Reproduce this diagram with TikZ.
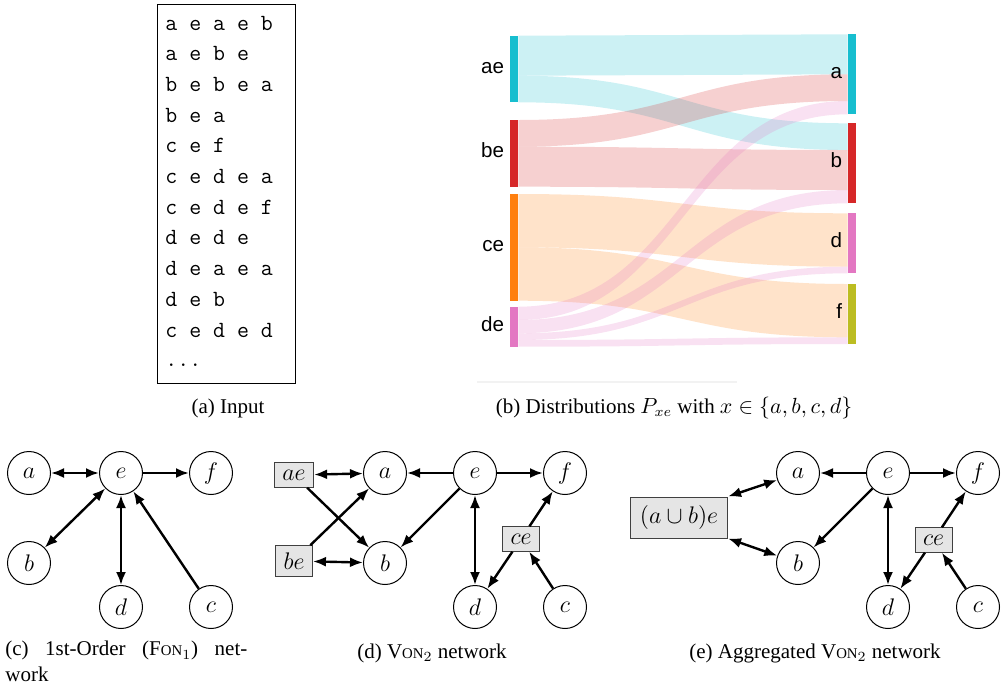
\documentclass[tikz,border=0pt]{standalone}
\usepackage{fontspec}
\setmainfont{Liberation Serif}
\newfontfamily\sankeyfont{Liberation Sans}
\usetikzlibrary{arrows.meta}

\definecolor{flowcyan}{RGB}{23,190,207}
\definecolor{flowred}{RGB}{214,39,40}
\definecolor{floworange}{RGB}{255,127,14}
\definecolor{flowpink}{RGB}{227,119,194}
\definecolor{flowolive}{RGB}{188,189,34}

\newcommand{\smcp}[1]{{\fontsize{7.4}{9}\selectfont #1}}

\begin{document}
\begin{tikzpicture}[x=0.5pt, y=-0.5pt,
    vert/.style={circle, draw, line width=0.5pt, minimum size=21.5pt, inner sep=0pt, font=\fontsize{13}{15}\selectfont},
    memo/.style={rectangle, draw=black!75, line width=0.5pt, fill=black!10, inner xsep=4pt, inner ysep=3.5pt, font=\fontsize{13}{15}\selectfont},
    link/.style={line width=1.2pt, -{Latex[length=6.5pt,width=5pt]}},
    blink/.style={line width=1.2pt, {Latex[length=6.5pt,width=5pt]}-{Latex[length=6.5pt,width=5pt]}},
    capt/.style={anchor=base, inner sep=0pt, font=\fontsize{10.5}{12.6}\selectfont},
    seq/.style={anchor=base west, inner sep=0pt, font=\fontsize{11.6}{14}\ttfamily},
    barlabel/.style={anchor=mid east, inner sep=0pt, font=\fontsize{10.3}{12}\sankeyfont}]
    \useasboundingbox (0,0) rectangle (1006,691);

    % (a) input paths
    \node (inbox) [draw, line width=0.5pt, minimum width=69pt, minimum height=189.5pt, inner sep=0pt] at (226,193.5) {};
    \foreach \s [count=\i] in {a e a e b, a e b e, b e b e a, b e a, c e f, c e d e a, c e d e f, d e d e, d e a e a, d e b, c e d e d}
        \node (seq\i) [seq] at (165, 30.7*\i-0.7) {\s};
    \node (seqmore) [seq] at (165,366) {...};
    \node (capa) [capt] at (228,413) {(a) Input};

    % (b) sankey of P_xe
    \foreach \col/\la/\lb/\ra/\rb in {
        flowcyan/35.7/75.7/34.3/74.3,
        flowcyan/75.7/102.3/123.3/150,
        flowred/120/146.7/74.3/101,
        flowred/146.7/186.7/150/190,
        floworange/194/247.3/213.3/266.7,
        floworange/247.3/300.7/284/337.3,
        flowpink/306.7/320/101/114.3,
        flowpink/320/333.3/190/203.3,
        flowpink/333.3/340/266.7/273.3,
        flowpink/340/346.7/337.3/344}
        \fill[\col, fill opacity=0.22] (518.3,\la) .. controls (683,\la) and (683,\ra) .. (847.7,\ra)
            -- (847.7,\rb) .. controls (683,\rb) and (683,\lb) .. (518.3,\lb) -- cycle;

    \fill[flowcyan] (510,35.7) rectangle (518.3,102.3);
    \fill[flowred] (510,120) rectangle (518.3,186.7);
    \fill[floworange] (510,194) rectangle (518.3,300.7);
    \fill[flowpink] (510,306.7) rectangle (518.3,346.7);
    \fill[flowcyan] (847.7,34.3) rectangle (855.7,114.3);
    \fill[flowred] (847.7,123.3) rectangle (855.7,203.3);
    \fill[flowpink] (847.7,213.3) rectangle (855.7,273.3);
    \fill[flowolive] (847.7,284) rectangle (855.7,344);

    \node (lae) [barlabel] at (504.5,69) {ae};
    \node (lbe) [barlabel] at (504.5,153.3) {be};
    \node (lce) [barlabel] at (504.5,247.3) {ce};
    \node (lde) [barlabel] at (504.5,326.7) {de};
    \node (ra) [barlabel] at (842.5,74.3) {a};
    \node (rb) [barlabel] at (842.5,163.3) {b};
    \node (rd) [barlabel] at (842.5,243.3) {d};
    \node (rf) [barlabel] at (842.5,314) {f};

    \draw[black!5, line width=1pt] (477,381.5) -- (737,381.5);
    \node (capb) [capt] at (674,413) {(b) Distributions $P_{xe}$ with $x\in\{a,b,c,d\}$};

    % (c) first-order network
    \node (n1a) [vert] at (29,473) {$a$};
    \node (n1e) [vert] at (121,473) {$e$};
    \node (n1f) [vert] at (211,473) {$f$};
    \node (n1b) [vert] at (29,563) {$b$};
    \node (n1d) [vert] at (121,607) {$d$};
    \node (n1c) [vert] at (211,607) {$c$};
    \draw[blink] (n1a) -- (n1e);
    \draw[link] (n1e) -- (n1f);
    \draw[blink] (n1b) -- (n1e);
    \draw[blink] (n1e) -- (n1d);
    \draw[link] (n1c) -- (n1e);
    \node (capc) [anchor=north west, text width=121pt, align=left, inner sep=0pt, font=\fontsize{10.5}{12.6}\selectfont] at (5,641)
        {(c)\hfill 1st-Order\hfill (F\smcp{ON}$_1$)\hfill net-\\work};

    % (d) second-order network
    \node (n2ae) [memo] at (294,475) {$ae$};
    \node (n2be) [memo] at (294,561) {$be$};
    \node (n2a) [vert] at (385,473) {$a$};
    \node (n2b) [vert] at (385,563) {$b$};
    \node (n2e) [vert] at (475,473) {$e$};
    \node (n2f) [vert] at (565,473) {$f$};
    \node (n2ce) [memo] at (521,539) {$ce$};
    \node (n2d) [vert] at (475,607) {$d$};
    \node (n2c) [vert] at (565,607) {$c$};
    \draw[blink] (n2ae) -- (n2a);
    \draw[link] (n2ae) -- (n2b);
    \draw[link] (n2be) -- (n2a);
    \draw[blink] (n2be) -- (n2b);
    \draw[link] (n2e) -- (n2a);
    \draw[link] (n2e) -- (n2b);
    \draw[link] (n2e) -- (n2f);
    \draw[blink] (n2e) -- (n2d);
    \draw[link] (n2ce) -- (n2f);
    \draw[link] (n2ce) -- (n2d);
    \draw[link] (n2c) -- (n2ce);
    \node (capd) [capt] at (432,658) {(d) V\smcp{ON}$_2$ network};

    % (e) aggregated network
    \node (n3abe) [memo, inner xsep=4.75pt, inner ysep=4.25pt] at (679,517.5) {$(a\cup b)e$};
    \node (n3a) [vert] at (798,473) {$a$};
    \node (n3b) [vert] at (798,563) {$b$};
    \node (n3e) [vert] at (888,473) {$e$};
    \node (n3f) [vert] at (978,473) {$f$};
    \node (n3ce) [memo] at (933.5,540) {$ce$};
    \node (n3d) [vert] at (888,607) {$d$};
    \node (n3c) [vert] at (978,607) {$c$};
    \draw[blink] (n3abe.north east) -- (n3a);
    \draw[blink] (n3abe.south east) -- (n3b);
    \draw[link] (n3e) -- (n3a);
    \draw[link] (n3e) -- (n3b);
    \draw[link] (n3e) -- (n3f);
    \draw[blink] (n3e) -- (n3d);
    \draw[link] (n3ce) -- (n3f);
    \draw[link] (n3ce) -- (n3d);
    \draw[link] (n3c) -- (n3ce);
    \node (cape) [capt] at (815,658) {(e) Aggregated V\smcp{ON}$_2$ network};
\end{tikzpicture}
\end{document}
